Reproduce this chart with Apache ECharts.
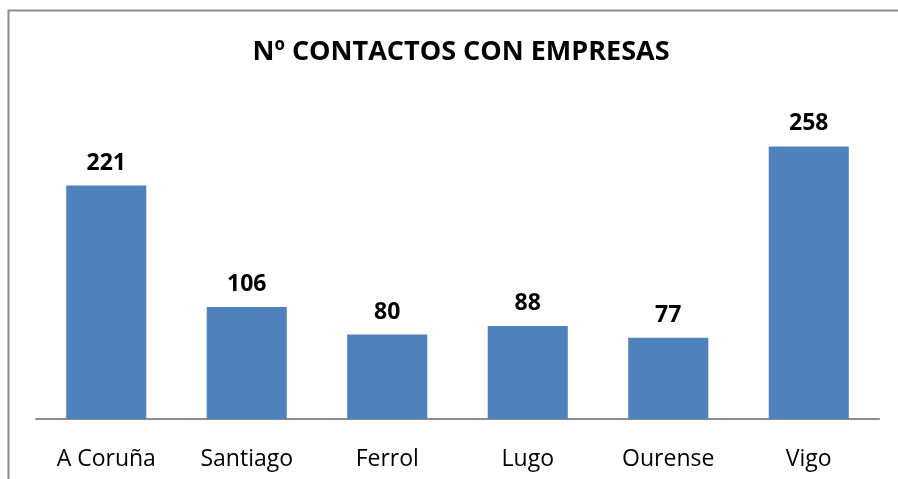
<!DOCTYPE html>
<html>
<head>
<meta charset="utf-8">
<script src="https://cdn.jsdelivr.net/npm/echarts@6/dist/echarts.min.js"></script>
<style>
  html, body { margin: 0; padding: 0; background: #fff; }
  #chart { width: 898px; height: 479px; }
</style>
</head>
<body>
<div id="chart"></div>
<script>
const cities = ['A Coruña', 'Santiago', 'Ferrol', 'Lugo', 'Ourense', 'Vigo'];
const contacts = [221, 106, 80, 88, 77, 258];

const chart = echarts.init(document.getElementById('chart'), null, { renderer: 'canvas' });

chart.setOption({
    backgroundColor: '#ffffff',
    animation: false,
    title: {
        text: 'Nº CONTACTOS CON EMPRESAS',
        left: 456,
        top: 34,
        textAlign: 'center',
        textStyle: {
            fontFamily: 'Open Sans',
            fontWeight: 'bold',
            fontSize: 27,
            color: '#000'
        }
    },
    graphic: [
        {
            type: 'polyline',
            shape: { points: [[8.5, 479], [8.5, 10.5], [898, 10.5]] },
            style: { stroke: '#8c8c8c', lineWidth: 2, fill: null }
        }
    ],
    grid: { left: 36, right: 19, top: 102, bottom: 60 },
    xAxis: {
        type: 'category',
        data: cities,
        axisTick: { show: false },
        axisLine: { lineStyle: { color: '#8c8c8c', width: 2 } },
        axisLabel: {
            margin: 29,
            fontFamily: 'Open Sans',
            fontSize: 23,
            color: '#000'
        }
    },
    yAxis: {
        type: 'value',
        min: 0,
        max: 300,
        show: false
    },
    series: [
        {
            type: 'bar',
            data: contacts,
            barCategoryGap: '43%',
            itemStyle: { color: '#4f81bd' },
            label: {
                show: true,
                position: 'top',
                distance: 11,
                fontFamily: 'Open Sans',
                fontWeight: 'bold',
                fontSize: 23,
                color: '#000'
            }
        }
    ]
});
</script>
</body>
</html>
